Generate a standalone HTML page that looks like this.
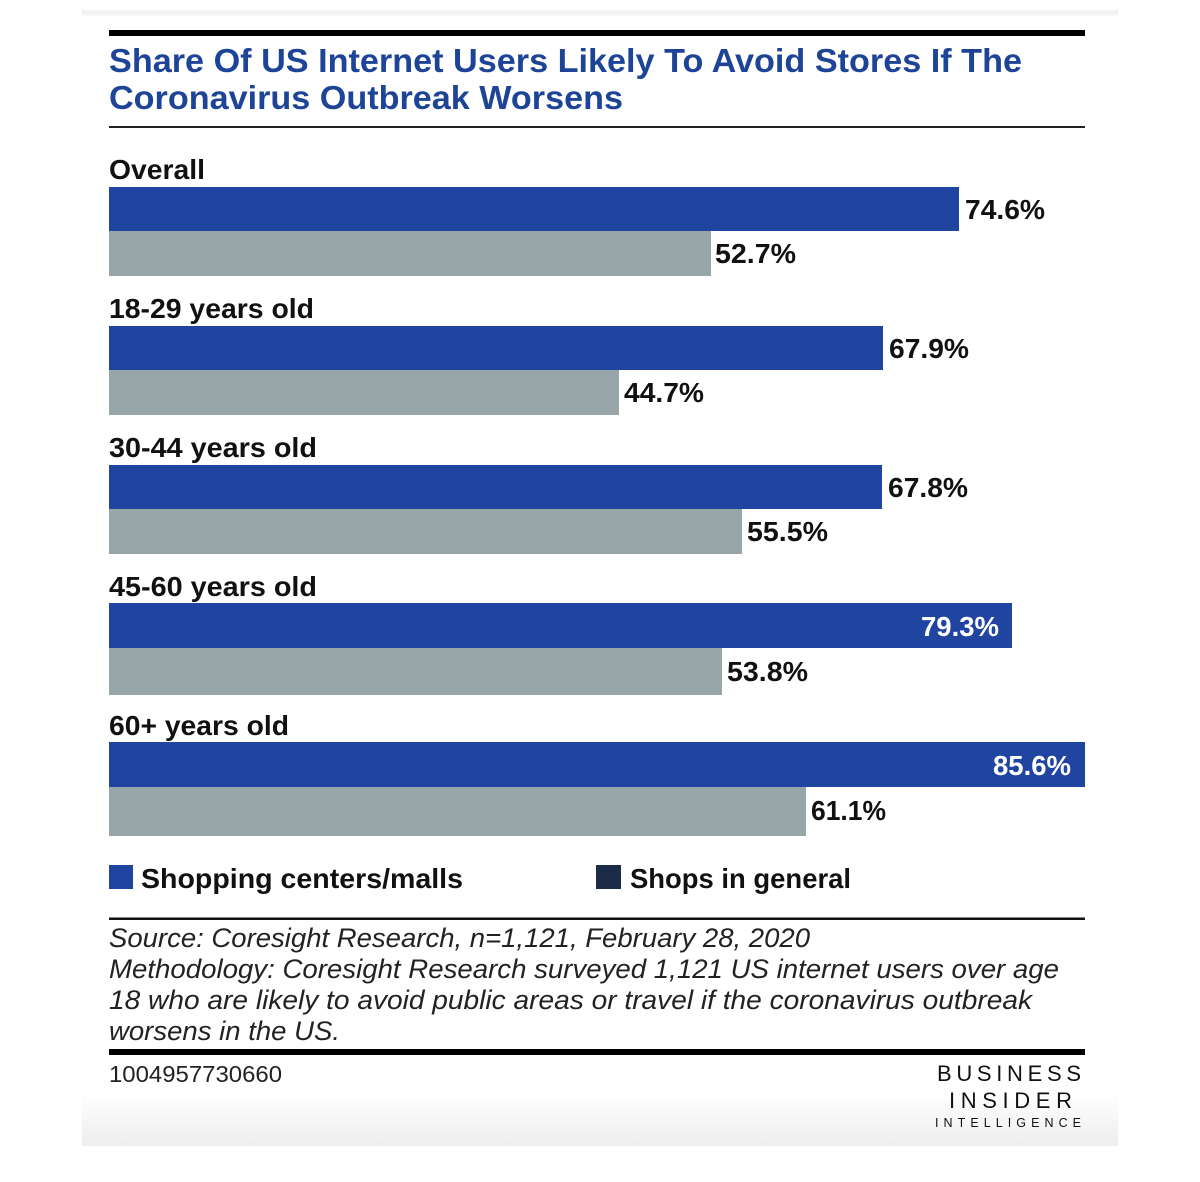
<!DOCTYPE html>
<html>
<head>
<meta charset="utf-8">
<style>
  html,body{margin:0;padding:0;background:#fff;}
  svg{display:block;}
  text{font-family:"Liberation Sans", sans-serif;}
</style>
</head>
<body>
<svg width="1200" height="1182" viewBox="0 0 1200 1182" xmlns="http://www.w3.org/2000/svg">
  <defs>
    <linearGradient id="topg" x1="0" y1="0" x2="0" y2="1">
      <stop offset="0" stop-color="#ffffff"/>
      <stop offset="0.4" stop-color="#eeeeee"/>
      <stop offset="1" stop-color="#ffffff"/>
    </linearGradient>
    <linearGradient id="botg" x1="0" y1="0" x2="0" y2="1">
      <stop offset="0" stop-color="#ffffff"/>
      <stop offset="1" stop-color="#eeeeee"/>
    </linearGradient>
  </defs>
  <rect x="0" y="0" width="1200" height="1182" fill="#ffffff"/>
  <rect x="82" y="9" width="1036" height="8" fill="url(#topg)"/>
  <rect x="82" y="1092" width="1036" height="54" fill="url(#botg)"/>

  <!-- top rule -->
  <rect x="109" y="30" width="976" height="6" fill="#000"/>

  <!-- title -->
  <text x="109" y="72" font-size="33" font-weight="bold" fill="#1d4496" textLength="913" lengthAdjust="spacingAndGlyphs">Share Of US Internet Users Likely To Avoid Stores If The</text>
  <text x="109" y="109" font-size="33" font-weight="bold" fill="#1d4496" textLength="514" lengthAdjust="spacingAndGlyphs">Coronavirus Outbreak Worsens</text>

  <rect x="109" y="126" width="976" height="2" fill="#222"/>

  <!-- group labels -->
  <g font-size="28" font-weight="bold" fill="#111">
    <text x="109" y="179" textLength="96" lengthAdjust="spacingAndGlyphs">Overall</text>
    <text x="109" y="318" textLength="205" lengthAdjust="spacingAndGlyphs">18-29 years old</text>
    <text x="109" y="457" textLength="208" lengthAdjust="spacingAndGlyphs">30-44 years old</text>
    <text x="109" y="596" textLength="208" lengthAdjust="spacingAndGlyphs">45-60 years old</text>
    <text x="109" y="735" textLength="180" lengthAdjust="spacingAndGlyphs">60+ years old</text>
  </g>

  <!-- bars -->
  <g fill="#1f45a0">
    <rect x="109" y="187" width="850" height="44"/>
    <rect x="109" y="326" width="774" height="44"/>
    <rect x="109" y="465" width="773" height="44"/>
    <rect x="109" y="603" width="903" height="45"/>
    <rect x="109" y="742" width="976" height="45"/>
  </g>
  <g fill="#98a5a9">
    <rect x="109" y="231" width="602" height="45"/>
    <rect x="109" y="370" width="510" height="45"/>
    <rect x="109" y="509" width="633" height="45"/>
    <rect x="109" y="648" width="613" height="47"/>
    <rect x="109" y="787" width="697" height="49"/>
  </g>

  <!-- value labels -->
  <g font-size="27.5" font-weight="bold" fill="#111">
    <text x="965" y="219" textLength="80" lengthAdjust="spacingAndGlyphs">74.6%</text>
    <text x="715" y="263" textLength="81" lengthAdjust="spacingAndGlyphs">52.7%</text>
    <text x="889" y="358" textLength="80" lengthAdjust="spacingAndGlyphs">67.9%</text>
    <text x="624" y="402" textLength="80" lengthAdjust="spacingAndGlyphs">44.7%</text>
    <text x="888" y="497" textLength="80" lengthAdjust="spacingAndGlyphs">67.8%</text>
    <text x="747" y="541" textLength="81" lengthAdjust="spacingAndGlyphs">55.5%</text>
    <text x="727" y="681" textLength="81" lengthAdjust="spacingAndGlyphs">53.8%</text>
    <text x="811" y="820" textLength="75" lengthAdjust="spacingAndGlyphs">61.1%</text>
  </g>
  <g font-size="27.5" font-weight="bold" fill="#ffffff" text-anchor="end">
    <text x="999" y="636">79.3%</text>
    <text x="1071" y="775">85.6%</text>
  </g>

  <!-- legend -->
  <rect x="109" y="865" width="24" height="24" fill="#1f45a0"/>
  <text x="141" y="888" font-size="28" font-weight="bold" fill="#111" textLength="322" lengthAdjust="spacingAndGlyphs">Shopping centers/malls</text>
  <rect x="596" y="865" width="25" height="24" fill="#1c2b48"/>
  <text x="630" y="888" font-size="28" font-weight="bold" fill="#111" textLength="221" lengthAdjust="spacingAndGlyphs">Shops in general</text>

  <rect x="109" y="917.5" width="976" height="2.5" fill="#111"/>

  <!-- source -->
  <g font-size="26.5" font-style="italic" fill="#222">
    <text x="109" y="947" textLength="701" lengthAdjust="spacingAndGlyphs">Source: Coresight Research, n=1,121, February 28, 2020</text>
    <text x="109" y="978" textLength="950" lengthAdjust="spacingAndGlyphs">Methodology: Coresight Research surveyed 1,121 US internet users over age</text>
    <text x="109" y="1009" textLength="923" lengthAdjust="spacingAndGlyphs">18 who are likely to avoid public areas or travel if the coronavirus outbreak</text>
    <text x="109" y="1040" textLength="231" lengthAdjust="spacingAndGlyphs">worsens in the US.</text>
  </g>

  <rect x="109" y="1049" width="976" height="6" fill="#000"/>

  <text x="109" y="1082" font-size="23.5" fill="#222" textLength="173" lengthAdjust="spacingAndGlyphs">1004957730660</text>

  <!-- logo -->
  <g fill="#111">
    <text x="937" y="1081" font-size="22" textLength="144" lengthAdjust="spacing">BUSINESS</text>
    <text x="949" y="1108" font-size="22" textLength="123" lengthAdjust="spacing">INSIDER</text>
    <text x="935" y="1127" font-size="12.5" textLength="146" lengthAdjust="spacing">INTELLIGENCE</text>
  </g>
</svg>
</body>
</html>
